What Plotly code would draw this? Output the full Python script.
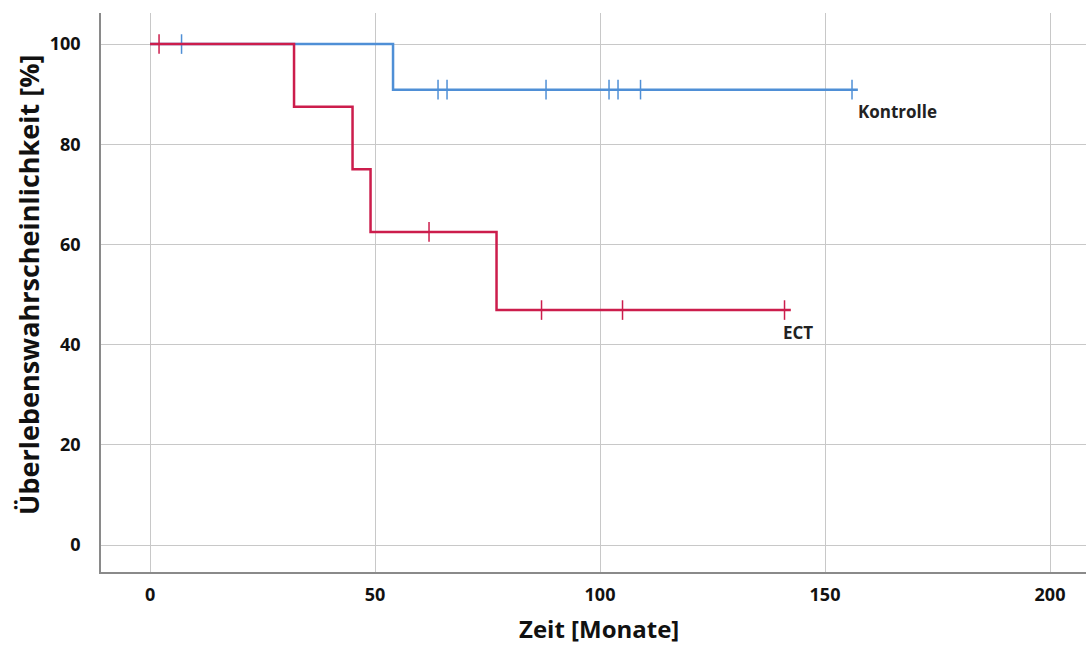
import plotly.graph_objects as go

# Kaplan-Meier step data (months, survival %)
ctrl_t = [0, 54, 54, 157.3]
ctrl_s = [100, 100, 90.9, 90.9]
ctrl_cens_t = [7, 64, 66, 88, 102, 104, 109, 156]
ctrl_cens_s = [100, 90.9, 90.9, 90.9, 90.9, 90.9, 90.9, 90.9]

ect_t = [0, 32, 32, 45, 45, 49, 49, 77, 77, 142.4]
ect_s = [100, 100, 87.5, 87.5, 75, 75, 62.5, 62.5, 46.9, 46.9]
ect_cens_t = [2, 62, 87, 105, 141]
ect_cens_s = [100, 62.5, 46.9, 46.9, 46.9]

x_ticks = [0, 50, 100, 150, 200]
y_ticks = [0, 20, 40, 60, 80, 100]

BLUE = "#4f8fd6"
RED = "#cc1d4c"
FONT = "Open Sans"

fig = go.Figure()
fig.add_trace(go.Scatter(x=ctrl_t, y=ctrl_s, mode="lines",
                         line=dict(color=BLUE, width=2.5), name="Kontrolle"))
fig.add_trace(go.Scatter(x=ctrl_cens_t, y=ctrl_cens_s, mode="markers",
                         marker=dict(symbol="line-ns", size=14,
                                     line=dict(color=BLUE, width=1.5)), showlegend=False))
fig.add_trace(go.Scatter(x=ect_t, y=ect_s, mode="lines",
                         line=dict(color=RED, width=2.5), name="ECT"))
fig.add_trace(go.Scatter(x=ect_cens_t, y=ect_cens_s, mode="markers",
                         marker=dict(symbol="line-ns", size=14,
                                     line=dict(color=RED, width=1.5)), showlegend=False))

fig.update_layout(
    width=1086, height=648,
    margin=dict(l=101, r=0, t=13, b=76),
    paper_bgcolor="white", plot_bgcolor="white",
    showlegend=False,
    font=dict(family=FONT, color="#111"),
    xaxis=dict(range=[-10.9, 208], tickvals=x_ticks, showgrid=True,
               gridcolor="#c8c8c8", gridwidth=1, zeroline=False,
               showline=True, linecolor="#8a8a8a", linewidth=1.5,
               ticks="", ticklabelstandoff=6,
               tickfont=dict(family=FONT, size=18, color="#111", weight="bold")),
    yaxis=dict(range=[-5.39, 106.2], tickvals=y_ticks, showgrid=True,
               gridcolor="#c8c8c8", gridwidth=1, zeroline=False,
               showline=True, linecolor="#8a8a8a", linewidth=1.5,
               ticks="", ticklabelstandoff=15,
               tickfont=dict(family=FONT, size=18, color="#111", weight="bold")),
    annotations=[
        dict(text="<b>Zeit [Monate]</b>", xref="paper", yref="paper",
             x=(599 - 101) / 985, y=-(628 - 572) / 559, showarrow=False,
             font=dict(family=FONT, size=24, color="#111"),
             xanchor="center", yanchor="middle"),
        dict(text="<b>Überlebenswahrscheinlichkeit [%]</b>", xref="paper", yref="paper",
             x=-(101 - 28) / 985, y=(572 - 285) / 559, showarrow=False, textangle=-90,
             font=dict(family=FONT, size=27, color="#111"),
             xanchor="center", yanchor="middle"),
        dict(text="<b>Kontrolle</b>", x=157.3, y=90.9, xref="x", yref="y",
             showarrow=False, xanchor="left", yanchor="top", yshift=-8, xshift=-2,
             font=dict(family=FONT, size=17, color="#222")),
        dict(text="<b>ECT</b>", x=140.8, y=46.9, xref="x", yref="y",
             showarrow=False, xanchor="left", yanchor="top", yshift=-9, xshift=-3,
             font=dict(family=FONT, size=17, color="#222")),
    ],
)

fig.write_html("out.html")
